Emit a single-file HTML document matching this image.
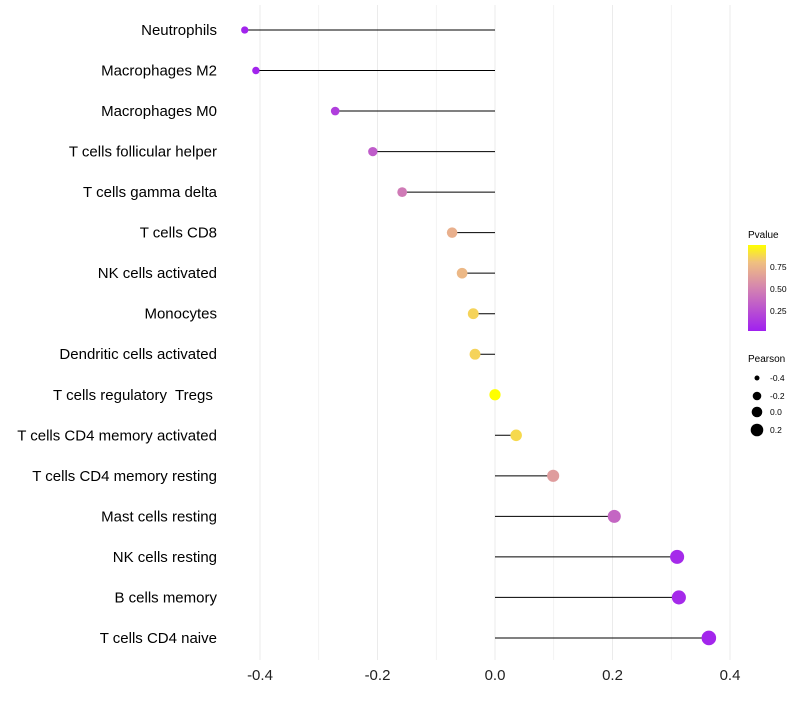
<!DOCTYPE html>
<html><head><meta charset="utf-8"><style>
body{margin:0;background:#fff;font-family:"Liberation Sans",sans-serif;}
text{white-space:pre;}
</style></head><body>
<svg id="chart" width="800" height="700" xmlns="http://www.w3.org/2000/svg" font-family="Liberation Sans, sans-serif">
<defs><linearGradient id="pg" x1="0" y1="1" x2="0" y2="0">
<stop offset="0" stop-color="#a020f0"/><stop offset="0.5" stop-color="#d484b0"/><stop offset="0.8" stop-color="#f0c080"/><stop offset="1" stop-color="#ffff00"/></linearGradient></defs>
<g id="grid"></g><g id="marks"></g><g id="labels"></g>
<g>
<text x="748" y="238" font-size="10">Pvalue</text>
<rect x="748" y="245" width="18" height="86" fill="url(#pg)"/>
<text x="770" y="270" font-size="8.5">0.75</text>
<text x="770" y="292" font-size="8.5">0.50</text>
<text x="770" y="314" font-size="8.5">0.25</text>
</g>
<g>
<text x="748" y="362" font-size="10">Pearson</text>
<circle cx="757" cy="378" r="2.5"/><text x="770" y="381" font-size="8.5">-0.4</text>
<circle cx="757" cy="396" r="4.3"/><text x="770" y="399" font-size="8.5">-0.2</text>
<circle cx="757" cy="412" r="5.3"/><text x="770" y="415" font-size="8.5">0.0</text>
<circle cx="757" cy="430" r="6.3"/><text x="770" y="433" font-size="8.5">0.2</text>
</g>
</svg>
<script>
const categories=["Neutrophils","Macrophages M2","Macrophages M0","T cells follicular helper","T cells gamma delta","T cells CD8","NK cells activated","Monocytes","Dendritic cells activated","T cells regulatory  Tregs ","T cells CD4 memory activated","T cells CD4 memory resting","Mast cells resting","NK cells resting","B cells memory","T cells CD4 naive"];
const pearson=[-0.426,-0.407,-0.272,-0.208,-0.158,-0.073,-0.056,-0.037,-0.034,0.0,0.036,0.099,0.203,0.31,0.313,0.364];
const pvalues=[0.02,0.02,0.15,0.3,0.45,0.72,0.76,0.86,0.86,1.0,0.88,0.62,0.35,0.05,0.05,0.03];
const xticks=[-0.4,-0.2,0.0,0.2,0.4];
const xtickLabels=["-0.4","-0.2","0.0","0.2","0.4"];
const NS="http://www.w3.org/2000/svg";
function xs(v){return 495+v*587.5;}
function ys(i){return 30+i*40.53;}
function rs(v){return 5.6+4.6*v;}
function lerp(a,b,t){return a.map((x,i)=>Math.round(x+(b[i]-x)*t));}
const stops=[[0,[160,32,240]],[0.5,[212,132,176]],[0.8,[240,192,128]],[1,[255,255,0]]];
function col(p){for(let k=1;k<stops.length;k++){if(p<=stops[k][0]){const a=stops[k-1],b=stops[k];return `rgb(${lerp(a[1],b[1],(p-a[0])/(b[0]-a[0]))})`;}}return 'rgb(255,255,0)';}
function mk(t,a,parent){const e=document.createElementNS(NS,t);for(const k in a)e.setAttribute(k,a[k]);parent.appendChild(e);return e;}
const grid=document.getElementById('grid'),marks=document.getElementById('marks'),labels=document.getElementById('labels');
for(let v=-0.4;v<=0.41;v+=0.1){const g=mk('line',{x1:xs(v),x2:xs(v),y1:5,y2:660,stroke:'#ebebeb','stroke-width':Math.abs(Math.round(v*10))%2==0?1:0.6},grid);

}
xticks.forEach((v,i)=>{const t=mk('text',{x:xs(v),y:680,'font-size':15,'text-anchor':'middle',fill:'#222'},labels);t.textContent=xtickLabels[i];

});
categories.forEach((c,i)=>{const y=ys(i);
const t=mk('text',{x:217,y:y+5,'font-size':15,'text-anchor':'end',fill:'#000'},labels);t.textContent=c;


const l=mk('line',{x1:xs(0),x2:xs(pearson[i]),y1:y,y2:y,stroke:'#000','stroke-width':1},marks);


const p=mk('circle',{cx:xs(pearson[i]),cy:y,r:Math.max(1.5,rs(pearson[i])),fill:col(pvalues[i])},marks);

});
</script>
</body></html>
